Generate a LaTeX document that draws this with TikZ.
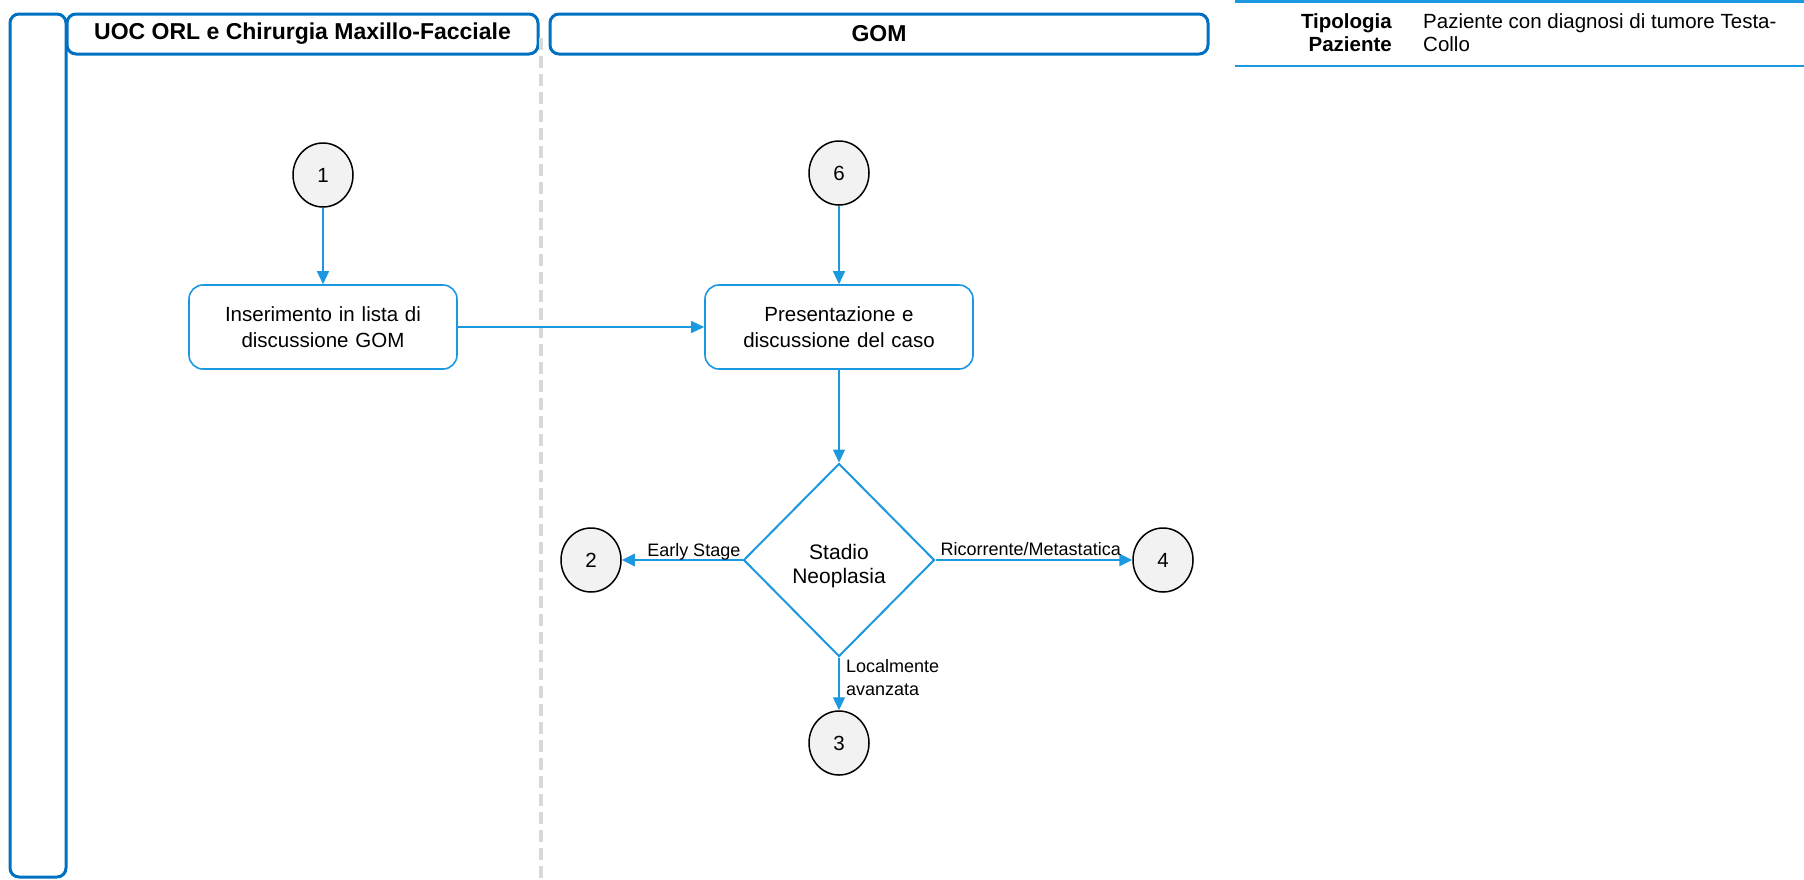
\documentclass[tikz,border=0pt]{standalone}
\usepackage{fontspec}
\setmainfont{Liberation Sans}
\usetikzlibrary{shapes.geometric,arrows.meta}
\definecolor{laneblue}{RGB}{0,112,192}
\definecolor{flowblue}{RGB}{27,152,224}
\definecolor{circfill}{RGB}{242,242,242}
\definecolor{dashgray}{RGB}{217,217,217}
\tikzset{
  lane/.style={draw=laneblue, line width=3pt, rounded corners=9pt, inner sep=0pt},
  lanetitle/.style={font=\fontsize{23}{27}\selectfont\bfseries},
  stepbox/.style={draw=flowblue, line width=1.6pt, rounded corners=14pt,
    minimum width=268pt, minimum height=84pt, align=center, text width=240pt,
    font=\fontsize{20.5}{26.5}\selectfont},
  conn/.style={ellipse, draw=black, line width=1.5pt, fill=circfill,
    minimum width=60pt, minimum height=64pt, inner sep=0pt,
    font=\fontsize{20.5}{24}\selectfont},
  decision/.style={diamond, draw=flowblue, line width=2pt, inner sep=0pt,
    minimum width=191pt, minimum height=193pt},
  decisiontext/.style={align=center, inner sep=0pt, font=\fontsize{21}{24}\selectfont},
  flow/.style={draw=flowblue, line width=1.3pt, -{Triangle[length=13pt,width=12pt]}},
  flowthick/.style={flow, line width=2.6pt},
  lbl/.style={font=\fontsize{18}{23}\selectfont, inner sep=0pt, align=left},
  rule/.style={draw=flowblue, line width=2.6pt},
}
\begin{document}
\begin{tikzpicture}[x=1pt,y=-1pt]
\useasboundingbox (0,0) rectangle (1804,879);

% swimlane frame and headers
\node[lane, minimum width=56pt, minimum height=863pt] (side) at (38,445.5) {};
\node[lane, lanetitle, minimum width=471pt, minimum height=40pt] (laneA) at (302.5,34)
  {UOC ORL e Chirurgia Maxillo-Facciale};
\node[lane, lanetitle, minimum width=658pt, minimum height=40pt] (laneB) at (879,34) {GOM};
\draw[dashgray, line width=4pt, dash pattern=on 12pt off 6pt] (541,38) -- (541,879);

% patient type table
\draw[rule] (1235,1.3) -- (1804,1.3);
\draw[rule] (1235,66) -- (1804,66);
\node[anchor=east, align=right, inner sep=0pt, font=\fontsize{20.5}{23}\selectfont\bfseries]
  (tiplbl) at (1392,33) {Tipologia\\Paziente};
\node[anchor=west, align=left, inner sep=0pt, font=\fontsize{20.5}{23}\selectfont]
  (tipval) at (1423,33) {Paziente con diagnosi di tumore Testa-\\Collo};

% flow
\node[conn] (c1) at (323,175) {1};
\node[conn] (c6) at (839,173) {6};
\node[stepbox] (box1) at (323,327) {Inserimento in lista di\\discussione GOM};
\node[stepbox] (box2) at (839,327) {Presentazione e\\discussione del caso};
\node[decision] (dia) at (839,560) {};
\node[decisiontext] (diatxt) at ([yshift=-6pt]dia.center) {Stadio\\Neoplasia};
\node[conn] (c2) at (591,560) {2};
\node[conn] (c4) at (1163,560) {4};
\node[conn] (c3) at (839,743) {3};

\draw[flow] (c1) -- (box1);
\draw[flow] (c6) -- (box2);
\draw[flow] (box1) -- (box2);
\draw[flow] (box2) -- (dia);
\draw[flowthick] (dia.west) -- (c2);
\draw[flowthick] (dia.east) -- (c4);
\draw[flow] (dia.south) -- (c3);

\node[lbl, anchor=base east] (lblearly) at ([xshift=-2pt,yshift=4pt]dia.west) {Early Stage};
\node[lbl, anchor=base west] (lblrec) at ([xshift=5pt,yshift=5pt]dia.east) {Ricorrente/Metastatica};
\node[lbl, anchor=north west] (lblloc) at ([xshift=7pt,yshift=-2pt]dia.south) {Localmente\\avanzata};
\end{tikzpicture}
\end{document}
